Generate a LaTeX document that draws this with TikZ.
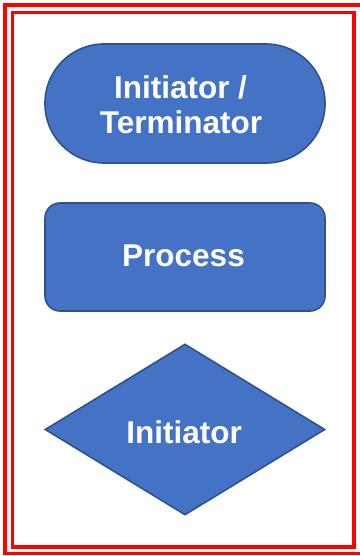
\documentclass[tikz,border=0pt]{standalone}
\usepackage{fontspec}
\setmainfont{Liberation Sans}
\usetikzlibrary{shapes.geometric}
\definecolor{shapefill}{HTML}{4472C4}
\definecolor{shapeedge}{HTML}{2F528F}
\definecolor{frame}{HTML}{FF0000}
\tikzset{
  flowshape/.style={fill=shapefill,draw=shapeedge,line width=1.6pt,inner sep=0pt},
  flowtext/.style={text=white,font=\fontsize{31.5}{35}\selectfont\bfseries,inner sep=0pt,anchor=base},
  frameline/.style={draw=frame,line width=3.5pt}
}
\begin{document}
\begin{tikzpicture}[x=1pt,y=-1pt]
\useasboundingbox (0,0) rectangle (359,556);
\draw[frameline] (5,4.8) rectangle (361.5,553.5);
\draw[frameline] (12.5,12.3) rectangle (354,546.8);
\node[flowshape,minimum width=280pt,minimum height=119pt,rounded corners=59pt] (term) at (185,103.5) {};
\node[flowtext] (termA) at (180.5,98.3) {Initiator /};
\node[flowtext] (termB) at (181,133.5) {Terminator};
\node[flowshape,minimum width=280pt,minimum height=108pt,rounded corners=15pt] (proc) at (185,257) {};
\node[flowtext] (procT) at (183.5,266) {Process};
\node[flowshape,diamond,minimum width=280pt,minimum height=171pt] (dec) at (185,429.5) {};
\node[flowtext] (decT) at (184,443) {Initiator};
\end{tikzpicture}
\end{document}
